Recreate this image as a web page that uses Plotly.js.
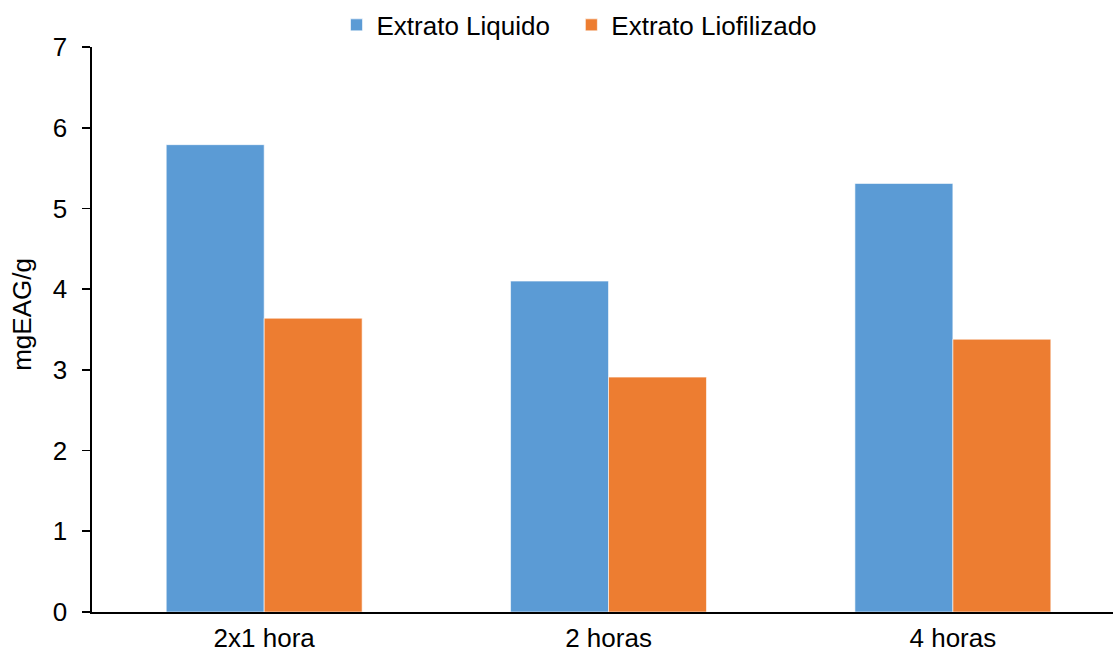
<!DOCTYPE html>
<html>
<head>
<meta charset="utf-8">
<script src="https://cdn.plot.ly/plotly-3.0.1.min.js"></script>
<style>
  html, body { margin: 0; padding: 0; background: #fff; }
  #chart { width: 1113px; height: 655px; }
</style>
</head>
<body>
<div id="chart"></div>
<script>
// Sampling times
const categories = ['2x1 hora', '2 horas', '4 horas'];
// Phenolic content (mgEAG/g)
const extratoLiquido = [5.79, 4.10, 5.31];
const extratoLiofilizado = [3.64, 2.91, 3.38];
const yTicks = [0, 1, 2, 3, 4, 5, 6, 7];
const yTitle = 'mgEAG/g';

const FONT = 'Liberation Sans, Arial, sans-serif';
const SIZE = 26;

const traces = [
  {
    type: 'bar',
    name: 'Extrato Liquido',
    legend: 'legend',
    x: categories,
    y: extratoLiquido,
    marker: { color: '#5B9BD5', line: { color: 'rgba(255,255,255,0.6)', width: 1 } },
    hoverinfo: 'x+y+name'
  },
  {
    type: 'bar',
    name: 'Extrato Liofilizado',
    legend: 'legend2',
    x: categories,
    y: extratoLiofilizado,
    marker: { color: '#ED7D31', line: { color: 'rgba(255,255,255,0.6)', width: 1 } },
    hoverinfo: 'x+y+name'
  }
];

// one legend box per series, side by side above the plot
const legendBase = {
  orientation: 'h',
  xanchor: 'left',
  y: 1.039, yanchor: 'middle',
  font: { family: FONT, size: SIZE, color: '#000' },
  itemwidth: 30,
  bgcolor: 'rgba(0,0,0,0)'
};

const layout = {
  width: 1113,
  height: 655,
  margin: { l: 92, r: 0, t: 47, b: 43 },
  paper_bgcolor: '#fff',
  plot_bgcolor: '#fff',
  font: { family: FONT, size: SIZE, color: '#000' },
  barmode: 'group',
  bargap: 0.431,
  bargroupgap: 0,
  showlegend: true,
  legend: Object.assign({}, legendBase, { x: 0.2395 }),
  legend2: Object.assign({}, legendBase, { x: 0.4695 }),
  xaxis: {
    type: 'category',
    range: [-0.5, 2.465],
    showline: true,
    linecolor: '#000',
    linewidth: 1.6,
    ticks: '',
    showgrid: false,
    zeroline: false,
    tickfont: { family: FONT, size: SIZE, color: '#000' },
    ticklabelstandoff: 2,
    fixedrange: true
  },
  yaxis: {
    range: [0, 7],
    tickvals: yTicks,
    ticktext: yTicks.map(String),
    showline: true,
    linecolor: '#000',
    linewidth: 1.6,
    ticks: 'outside',
    ticklen: 8,
    tickwidth: 1.6,
    tickcolor: '#000',
    showgrid: false,
    zeroline: false,
    tickfont: { family: FONT, size: SIZE, color: '#000' },
    ticklabelstandoff: 10,
    fixedrange: true
  },
  annotations: [
    {
      text: yTitle,
      xref: 'paper', yref: 'paper',
      x: -0.068, xanchor: 'center',
      y: 0.527, yanchor: 'middle',
      textangle: -90,
      showarrow: false,
      font: { family: FONT, size: SIZE, color: '#000' }
    }
  ]
};

Plotly.newPlot('chart', traces, layout, { displayModeBar: false, staticPlot: true });
</script>
</body>
</html>
